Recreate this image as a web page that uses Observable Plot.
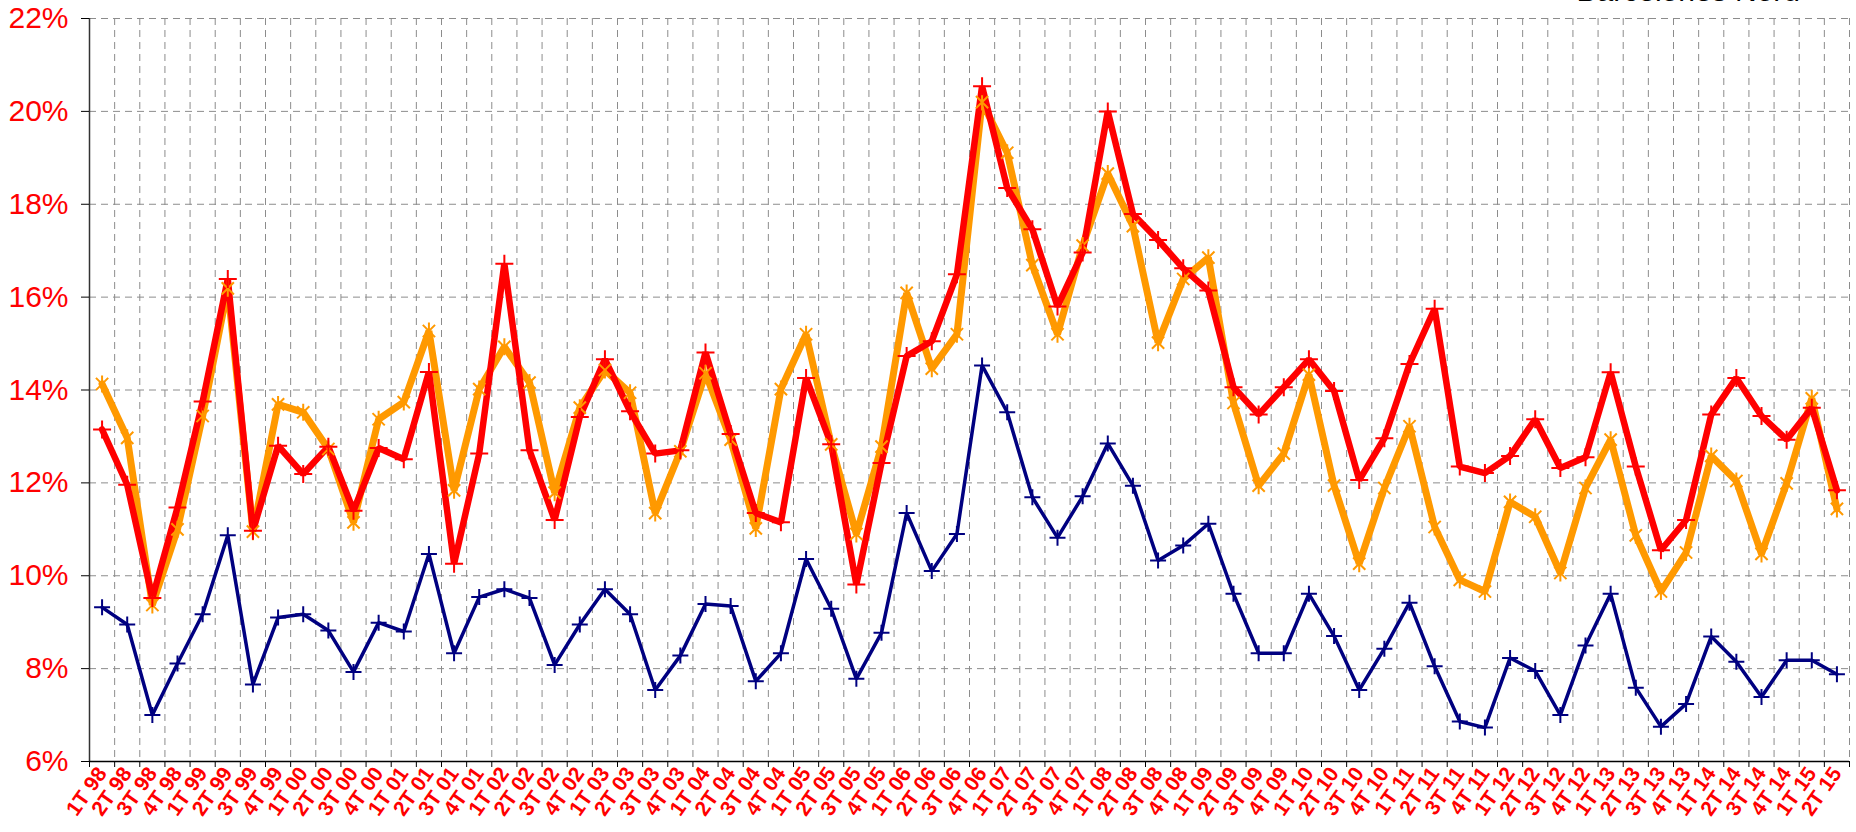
<!DOCTYPE html>
<html><head><meta charset="utf-8">
<script src="https://cdn.jsdelivr.net/npm/d3@7"></script>
<script src="https://cdn.jsdelivr.net/npm/@observablehq/plot@0.6"></script>
<style>
body{margin:0;background:#fff;overflow:hidden}
#wrap{position:relative;width:1856px;height:832px;overflow:hidden;background:#fff}
#title{position:absolute;right:56px;top:-24px;font:30px "Liberation Sans",Arial,sans-serif;line-height:30px;color:#000;white-space:nowrap}
#chart{position:absolute;left:0;top:0}
</style></head><body>
<div id="wrap"><div id="chart"></div><div id="title">Barcelonès Nord</div></div>
<script>
const quarters = [
 "1T 98","2T 98","3T 98","4T 98","1T 99","2T 99","3T 99","4T 99",
 "1T 00","2T 00","3T 00","4T 00","1T 01","2T 01","3T 01","4T 01",
 "1T 02","2T 02","3T 02","4T 02","1T 03","2T 03","3T 03","4T 03",
 "1T 04","2T 04","3T 04","4T 04","1T 05","2T 05","3T 05","4T 05",
 "1T 06","2T 06","3T 06","4T 06","1T 07","2T 07","3T 07","4T 07",
 "1T 08","2T 08","3T 08","4T 08","1T 09","2T 09","3T 09","4T 09",
 "1T 10","2T 10","3T 10","4T 10","1T 11","2T 11","3T 11","4T 11",
 "1T 12","2T 12","3T 12","4T 12","1T 13","2T 13","3T 13","4T 13",
 "1T 14","2T 14","3T 14","4T 14","1T 15","2T 15"
];
const seriesRed = [
 13.15,11.96,9.52,11.47, 13.75,16.39,10.97,12.8,
 12.19,12.78,11.4,12.75, 12.51,14.39,10.26,12.63,
 16.72,12.7,11.2,13.42, 14.66,13.54,12.63,12.7,
 14.81,13.05,11.35,11.15, 14.26,12.83,9.81,12.43,
 14.73,15.05,16.49,20.54, 18.35,17.46,15.8,16.96,
 20.0,17.79,17.23,16.62, 16.14,14.06,13.47,14.06,
 14.66,13.98,12.06,12.96, 14.56,15.75,12.35,12.21,
 12.58,13.37,12.32,12.55, 14.38,12.35,10.55,11.2,
 13.47,14.26,13.44,12.93, 13.62,11.84
];
const seriesOrange = [
 14.13,12.97,9.37,11.0, 13.44,16.19,10.95,13.69,
 13.52,12.73,11.15,13.37, 13.74,15.27,11.84,14.02,
 14.93,14.16,11.79,13.62, 14.43,13.94,11.35,12.68,
 14.36,12.93,11.02,14.02, 15.2,12.83,10.9,12.78,
 16.09,14.46,15.2,20.2, 19.11,16.69,15.2,17.11,
 18.66,17.53,15.02,16.39, 16.85,13.72,11.94,12.63,
 14.33,11.94,10.26,11.89, 13.22,11.05,9.91,9.66,
 11.59,11.27,10.06,11.89, 12.93,10.87,9.66,10.5,
 12.58,12.04,10.47,11.99, 13.82,11.44
];
const seriesNavy = [
 9.32,8.95,7.0,8.11, 9.17,10.87,7.66,9.10,
 9.17,8.82,7.93,8.99, 8.8,10.47,8.33,9.54,
 9.71,9.52,8.08,8.95, 9.71,9.17,7.54,8.28,
 9.39,9.35,7.73,8.33, 10.36,9.29,7.78,8.77,
 11.35,10.1,10.9,14.53, 13.52,11.69,10.82,11.71,
 12.85,11.94,10.33,10.65, 11.12,9.61,8.33,8.33,
 9.61,8.70,7.54,8.43, 9.42,8.05,6.86,6.73,
 8.23,7.95,7.0,8.5, 9.61,7.59,6.75,7.24,
 8.69,8.15,7.39,8.18, 8.18,7.88
];
const yTicks = [6,8,10,12,14,16,18,20,22];

const n = quarters.length;
const idx = d3.range(n);
const bounds = d3.range(n + 1).map(i => i - 0.5);
const rows = s => s.map((v, i) => ({i, v}));

const plusSym = {draw(ctx, size){const r = Math.sqrt(size/Math.PI); ctx.moveTo(-r,0); ctx.lineTo(r,0); ctx.moveTo(0,-r); ctx.lineTo(0,r);}};
const starSym = {draw(ctx, size){const r = Math.sqrt(size/Math.PI); const u = r*0.72; ctx.moveTo(-u,-u); ctx.lineTo(u,u); ctx.moveTo(-u,u); ctx.lineTo(u,-u); ctx.moveTo(0,-r); ctx.lineTo(0,r);}};

const grid = {stroke:"#8c8c8c", strokeOpacity:1, strokeWidth:1, strokeDasharray:"7,5"};

const chart = Plot.plot({
  width:1856, height:832,
  marginLeft:89, marginRight:7, marginTop:18, marginBottom:71,
  style:{fontFamily:'"Liberation Sans", Arial, sans-serif', background:"#fff", overflow:"visible"},
  x:{type:"linear", domain:[-0.5, n - 0.5]},
  y:{domain:[6, 22]},
  marks:[
    Plot.gridY(yTicks.filter(t => t > 6), grid),
    Plot.gridX(bounds.slice(1), grid),
    Plot.ruleX([bounds[0]], {stroke:"#333", strokeWidth:1.5}),
    Plot.ruleY([yTicks[0]], {stroke:"#000", strokeWidth:1.5}),
    Plot.axisY(yTicks, {text:null, tickSize:8, color:"#000", label:null}),
    Plot.axisY(yTicks, {tickSize:0, tickPadding:21, color:"#ff0000", fontSize:30, tickFormat:d => d + "%", label:null}),
    Plot.axisX(bounds, {text:null, tickSize:6, color:"#000", label:null}),
    Plot.axisX(idx, {tickSize:0, tickPadding:8, tickRotate:-55, color:"#ff0000", fontSize:21, fontWeight:"bold", tickFormat:i => quarters[i], label:null}),
    Plot.line(rows(seriesNavy), {x:"i", y:"v", stroke:"#000080", strokeWidth:3.5, strokeLinejoin:"miter"}),
    Plot.line(rows(seriesOrange), {x:"i", y:"v", stroke:"#ff9900", strokeWidth:7, strokeLinejoin:"miter"}),
    Plot.line(rows(seriesRed), {x:"i", y:"v", stroke:"#ff0000", strokeWidth:6.5, strokeLinejoin:"miter"}),
    Plot.dot(rows(seriesNavy), {x:"i", y:"v", symbol:plusSym, r:8, stroke:"#000080", strokeWidth:2, fill:"none"}),
    Plot.dot(rows(seriesOrange), {x:"i", y:"v", symbol:starSym, r:8.5, stroke:"#ff9900", strokeWidth:2, fill:"none"}),
    Plot.dot(rows(seriesRed), {x:"i", y:"v", symbol:plusSym, r:9, stroke:"#ff0000", strokeWidth:2, fill:"none"})
  ]
});
document.getElementById("chart").appendChild(chart);
</script>
</body></html>
